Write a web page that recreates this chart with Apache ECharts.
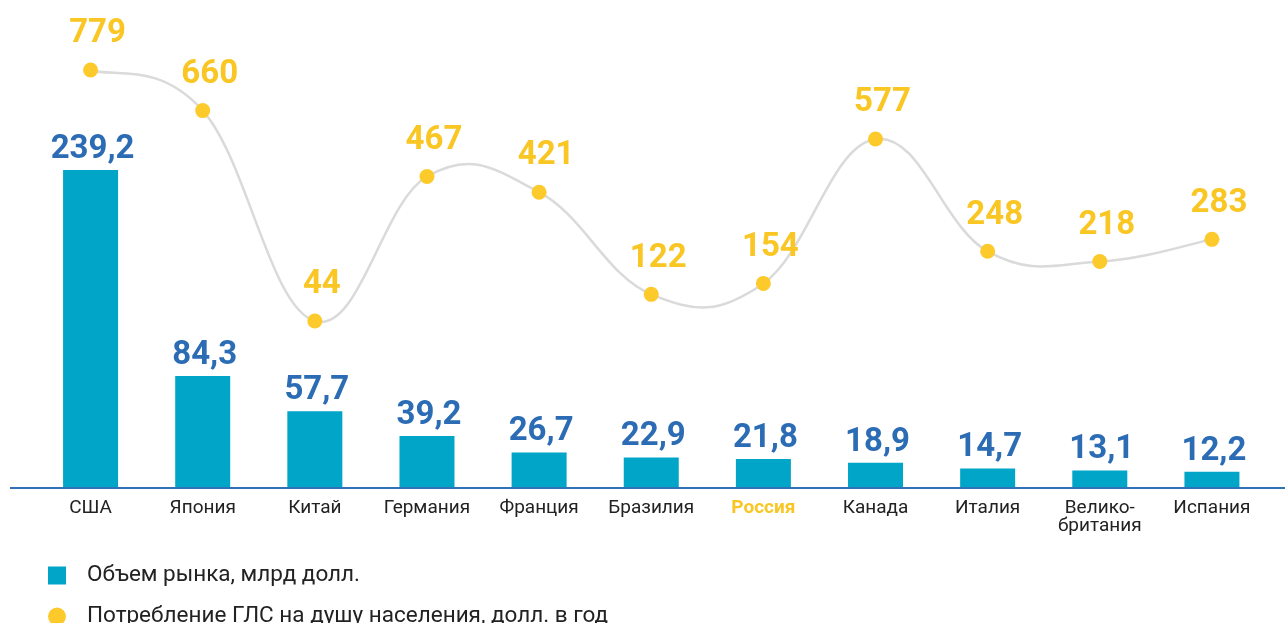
<!DOCTYPE html>
<html>
<head>
<meta charset="utf-8">
<script src="https://cdn.jsdelivr.net/npm/echarts@6/dist/echarts.min.js"></script>
<style>
  html, body { margin: 0; padding: 0; background: #fff; }
  #chart { width: 1285px; height: 623px; }
</style>
</head>
<body>
<div id="chart"></div>
<script>
// data
const countries = ['США', 'Япония', 'Китай', 'Германия', 'Франция', 'Бразилия', 'Россия', 'Канада', 'Италия', 'Велико-\nбритания', 'Испания'];
const marketVolume = [239.2, 84.3, 57.7, 39.2, 26.7, 22.9, 21.8, 18.9, 14.7, 13.1, 12.2];
const perCapita = [779, 660, 44, 467, 421, 122, 154, 577, 248, 218, 283];
const highlight = 'Россия';

const chart = echarts.init(document.getElementById('chart'));

const numFont = 'Roboto, sans-serif';
const tension = 0.2;

// Catmull-Rom style curve through the line points (ECharts' own smoothing clamps overshoot)
function renderCurve(params, api) {
  const i = params.dataIndex;
  const n = perCapita.length;
  if (i >= n - 1) return;
  const pt = (k) => {
    const j = Math.max(0, Math.min(n - 1, k));
    return api.coord([j, perCapita[j]]);
  };
  const p0 = pt(i - 1), p1 = pt(i), p2 = pt(i + 1), p3 = pt(i + 2);
  return {
    type: 'bezierCurve',
    shape: {
      x1: p1[0], y1: p1[1],
      x2: p2[0], y2: p2[1],
      cpx1: p1[0] + (p2[0] - p0[0]) * tension,
      cpy1: p1[1] + (p2[1] - p0[1]) * tension,
      cpx2: p2[0] - (p3[0] - p1[0]) * tension,
      cpy2: p2[1] - (p3[1] - p1[1]) * tension,
    },
    style: { stroke: '#dadada', lineWidth: 2.5, fill: null },
  };
}

chart.setOption({
  animation: false,
  backgroundColor: '#fff',
  textStyle: { fontFamily: 'Roboto, sans-serif' },
  grid: { left: 34.5, right: 17, top: 60, bottom: 135 },
  legend: {
    orient: 'vertical',
    left: 48,
    top: 564,
    height: 120,
    padding: 0,
    itemWidth: 18,
    itemHeight: 18,
    itemGap: 18,
    textStyle: { fontSize: 22.5, color: '#222', padding: [0, 0, 0, 16] },
    data: [
      { name: 'Объем рынка, млрд долл.', icon: 'rect' },
      { name: 'Потребление ГЛС на душу населения, долл. в год', icon: 'circle' },
    ],
  },
  xAxis: {
    type: 'category',
    data: countries,
    axisLine: { show: false },
    axisTick: { show: false },
    axisLabel: {
      margin: 11,
      fontSize: 19,
      color: '#222',
      lineHeight: 18,
      interval: 0,
      formatter: (v) => (v === highlight ? '{hl|' + v + '}' : v),
      rich: {
        hl: { fontSize: 19, fontWeight: 'bold', color: '#f9c623' },
      },
    },
  },
  yAxis: [
    { type: 'value', min: 0, max: 321.9, show: false },
    { type: 'value', min: -445.1, max: 808.2, show: false },
  ],
  graphic: [
    {
      type: 'line',
      shape: { x1: 10, y1: 488, x2: 1285, y2: 488 },
      style: { stroke: '#2f72b8', lineWidth: 2 },
      z: 10,
    },
  ],
  series: [
    {
      name: 'Объем рынка, млрд долл.',
      type: 'bar',
      data: marketVolume,
      barWidth: 55,
      itemStyle: { color: '#00a5c8' },
      label: {
        show: true,
        position: 'top',
        distance: 4,
        offset: [2, 0],
        fontFamily: numFont,
        fontSize: 33,
        fontWeight: 'bold',
        color: '#2b6cb4',
        formatter: (p) => String(p.value).replace('.', ','),
      },
    },
    {
      name: 'curve',
      type: 'custom',
      yAxisIndex: 1,
      data: perCapita,
      renderItem: renderCurve,
      silent: true,
      z: 2,
    },
    {
      name: 'Потребление ГЛС на душу населения, долл. в год',
      type: 'line',
      yAxisIndex: 1,
      data: perCapita,
      symbol: 'circle',
      symbolSize: 15,
      itemStyle: { color: '#fdca2c' },
      lineStyle: { width: 0, opacity: 0 },
      z: 3,
      label: {
        show: true,
        position: 'top',
        distance: 12,
        offset: [7, 0],
        fontFamily: numFont,
        fontSize: 33,
        fontWeight: 'bold',
        color: '#f9c623',
      },
    },
  ],
});
</script>
</body>
</html>
